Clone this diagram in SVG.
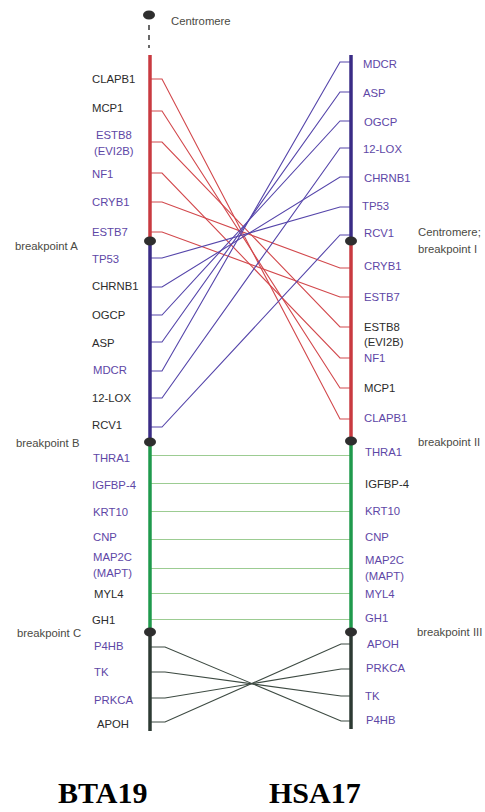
<svg xmlns="http://www.w3.org/2000/svg" width="485" height="812" viewBox="0 0 485 812">
<style>
text{font-family:"Liberation Sans",Arial,sans-serif;font-size:11.3px}
.d{fill:#2c2c2c}
.p{fill:#5e47a6}
.bp{fill:#4a4a44}
.t{font-family:"Liberation Serif","Times New Roman",serif;font-weight:bold;font-size:30px;fill:#000}
.red{stroke:#d2484c;stroke-width:1.1;fill:none}
.blu{stroke:#5545aa;stroke-width:1.1;fill:none}
.grn{stroke:#9ccc92;stroke-width:1.2;fill:none}
.dk{stroke:#3d4a42;stroke-width:1.1;fill:none}
.dot{fill:#2e2e2e}
</style>
<rect width="485" height="812" fill="#fff"/>
<g id="connectors">
<polyline class="red" points="150,79 162,79 340,419 351,419"/>
<polyline class="red" points="150,111 162,111 340,388 351,388"/>
<polyline class="red" points="150,142 162,142 340,327 351,327"/>
<polyline class="red" points="150,173 162,173 340,358 351,358"/>
<polyline class="red" points="150,202 162,202 340,268 351,268"/>
<polyline class="red" points="150,232 162,232 340,297 351,297"/>
<polyline class="blu" points="150,258 162,258 340,207 351,207"/>
<polyline class="blu" points="150,287 162,287 340,177 351,177"/>
<polyline class="blu" points="150,315 162,315 340,121 351,121"/>
<polyline class="blu" points="150,342 162,342 340,92 351,92"/>
<polyline class="blu" points="150,371 162,371 340,62 351,62"/>
<polyline class="blu" points="150,398 162,398 340,148 351,148"/>
<polyline class="blu" points="150,427 162,427 340,235 351,235"/>
<line class="grn" x1="150" y1="455.5" x2="351" y2="455.5"/>
<line class="grn" x1="150" y1="483.5" x2="351" y2="483.5"/>
<line class="grn" x1="150" y1="511.5" x2="351" y2="511.5"/>
<line class="grn" x1="150" y1="539.5" x2="351" y2="539.5"/>
<line class="grn" x1="150" y1="568.5" x2="351" y2="568.5"/>
<line class="grn" x1="150" y1="593.5" x2="351" y2="593.5"/>
<line class="grn" x1="150" y1="619.5" x2="351" y2="619.5"/>
<polyline class="dk" points="150,647 165,647 341,721 351,721"/>
<polyline class="dk" points="150,672 165,672 341,696 351,696"/>
<polyline class="dk" points="150,698 165,698 341,669 351,669"/>
<polyline class="dk" points="150,722 165,722 341,644 351,644"/>
</g>
<g id="BTA19">
<ellipse class="dot" cx="149" cy="15" rx="6" ry="4.5"/>
<line x1="149" y1="25" x2="149" y2="48" stroke="#444" stroke-width="1.6" stroke-dasharray="5,5"/>
<line x1="150" y1="55" x2="150" y2="241" stroke="#c93a40" stroke-width="3.5"/>
<line x1="150" y1="241" x2="150" y2="442" stroke="#3a2c86" stroke-width="3.5"/>
<line x1="150" y1="442" x2="150" y2="632" stroke="#1f9a4c" stroke-width="3.5"/>
<line x1="150" y1="632" x2="150" y2="731" stroke="#2d3a33" stroke-width="3.5"/>
<ellipse class="dot" cx="150" cy="241" rx="6" ry="4.5"/>
<ellipse class="dot" cx="150" cy="442" rx="6" ry="4.5"/>
<ellipse class="dot" cx="150" cy="632" rx="6" ry="4.5"/>
<text x="171" y="25" class="bp">Centromere</text>
<text x="15" y="250" class="bp">breakpoint A</text>
<text x="16" y="447" class="bp">breakpoint B</text>
<text x="17" y="637" class="bp">breakpoint C</text>
<text x="92" y="83" class="d">CLAPB1</text>
<text x="92" y="112" class="d">MCP1</text>
<text x="96" y="139" class="p">ESTB8</text>
<text x="94" y="155" class="p">(EVI2B)</text>
<text x="92" y="178" class="p">NF1</text>
<text x="92" y="206" class="p">CRYB1</text>
<text x="92" y="236" class="p">ESTB7</text>
<text x="92" y="263" class="p">TP53</text>
<text x="92" y="290" class="d">CHRNB1</text>
<text x="92" y="319" class="d">OGCP</text>
<text x="92" y="347" class="d">ASP</text>
<text x="93" y="374" class="p">MDCR</text>
<text x="92" y="402" class="d">12-LOX</text>
<text x="92" y="429" class="d">RCV1</text>
<text x="93" y="462" class="p">THRA1</text>
<text x="92" y="489" class="p">IGFBP-4</text>
<text x="93" y="516" class="p">KRT10</text>
<text x="93" y="541" class="p">CNP</text>
<text x="93" y="561" class="p">MAP2C</text>
<text x="93" y="577" class="p">(MAPT)</text>
<text x="94" y="598" class="d">MYL4</text>
<text x="92" y="624" class="d">GH1</text>
<text x="94" y="650" class="p">P4HB</text>
<text x="94" y="676" class="p">TK</text>
<text x="94" y="704" class="p">PRKCA</text>
<text x="97" y="728" class="d">APOH</text>
<text x="58" y="803" class="t">BTA19</text>
</g>
<g id="HSA17">
<line x1="351" y1="55" x2="351" y2="241" stroke="#3a2c86" stroke-width="3.5"/>
<line x1="351" y1="241" x2="351" y2="441" stroke="#c93a40" stroke-width="3.5"/>
<line x1="351" y1="441" x2="351" y2="632" stroke="#1f9a4c" stroke-width="3.5"/>
<line x1="351" y1="632" x2="351" y2="729" stroke="#2d3a33" stroke-width="3.5"/>
<ellipse class="dot" cx="351" cy="241" rx="6" ry="4.5"/>
<ellipse class="dot" cx="351" cy="441" rx="6" ry="4.5"/>
<ellipse class="dot" cx="351" cy="632" rx="6" ry="4.5"/>
<text x="418" y="236" class="bp">Centromere;</text>
<text x="418" y="253" class="bp">breakpoint I</text>
<text x="418" y="446" class="bp">breakpoint II</text>
<text x="417" y="636" class="bp">breakpoint III</text>
<text x="363" y="68" class="p">MDCR</text>
<text x="363" y="97" class="p">ASP</text>
<text x="364" y="126" class="p">OGCP</text>
<text x="363" y="153" class="p">12-LOX</text>
<text x="364" y="182" class="p">CHRNB1</text>
<text x="362" y="210" class="p">TP53</text>
<text x="364" y="237" class="p">RCV1</text>
<text x="364" y="270" class="p">CRYB1</text>
<text x="364" y="301" class="p">ESTB7</text>
<text x="364" y="331" class="d">ESTB8</text>
<text x="364" y="346" class="d">(EVI2B)</text>
<text x="364" y="362" class="p">NF1</text>
<text x="364" y="392" class="d">MCP1</text>
<text x="364" y="422" class="p">CLAPB1</text>
<text x="365" y="456" class="p">THRA1</text>
<text x="365" y="488" class="d">IGFBP-4</text>
<text x="365" y="515" class="p">KRT10</text>
<text x="365" y="541" class="p">CNP</text>
<text x="365" y="564" class="p">MAP2C</text>
<text x="365" y="580" class="p">(MAPT)</text>
<text x="365" y="598" class="p">MYL4</text>
<text x="365" y="622" class="p">GH1</text>
<text x="367" y="648" class="p">APOH</text>
<text x="366" y="672" class="p">PRKCA</text>
<text x="365" y="700" class="p">TK</text>
<text x="366" y="724" class="p">P4HB</text>
<text x="269" y="803" class="t">HSA17</text>
</g>
</svg>
